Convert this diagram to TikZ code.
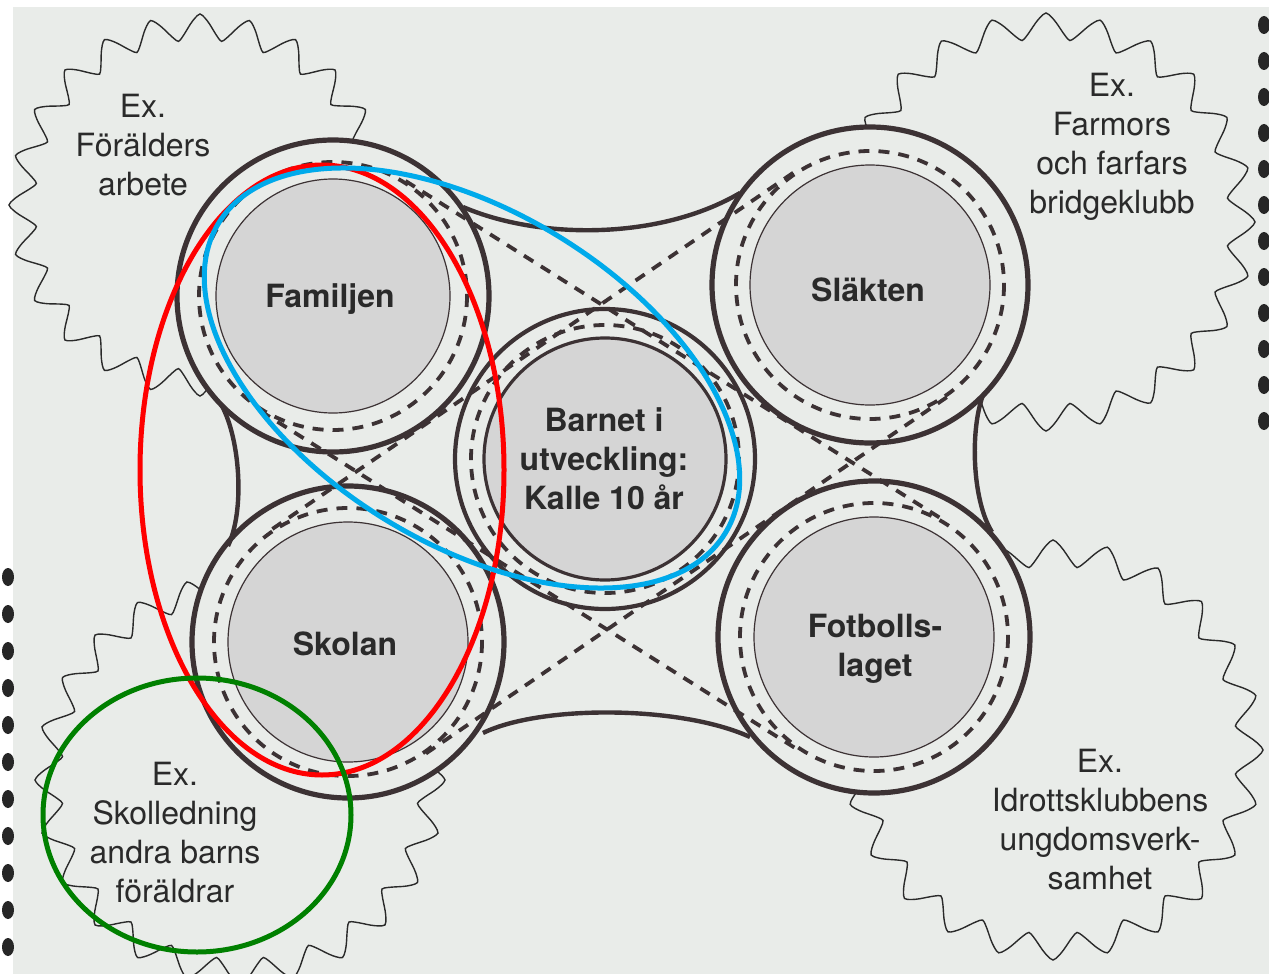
\documentclass[tikz,border=0pt]{standalone}
\usepackage{fontspec}
\setmainfont{TeX Gyre Heros}
\usetikzlibrary{calc}

\definecolor{page}{RGB}{233,236,233}
\definecolor{ringdark}{RGB}{60,50,52}
\definecolor{fillgrey}{RGB}{213,213,213}
\definecolor{inkgrey}{RGB}{42,42,42}
\definecolor{markblue}{RGB}{0,170,235}
\definecolor{markgreen}{RGB}{0,128,0}

\tikzset{
  burst/.style={draw=inkgrey, line width=0.7pt, fill=page},
  outerring/.style={draw=ringdark, line width=2.6pt, fill=page},
  dashring/.style={draw=ringdark, line width=1.9pt, dash pattern=on 5.5pt off 4.5pt},
  blobline/.style={draw=ringdark, line width=2.2pt},
  sphere/.style={circle, draw=ringdark, line width=0.6pt, fill=fillgrey, inner sep=0pt,
    minimum size=#1},
  spheretext/.style={align=center, text=inkgrey,
    font=\fontsize{16}{19.5}\selectfont\bfseries},
  extext/.style={align=center, text=inkgrey, font=\fontsize{16}{19.5}\selectfont},
  annot/.style={line width=2.5pt}
}

\begin{document}
\begin{tikzpicture}[x=0.5pt, y=-0.5pt]
% Page
\fill[white] (0,0) rectangle (1269,974);
\fill[page] (13,7) rectangle (1269,974);
\useasboundingbox (0,0) rectangle (1269,974);

% Punch holes
\foreach \k in {0,...,10}
  \fill[black!85] (8,{577+37*\k}) ellipse [x radius=6, y radius=9];
\foreach \k in {0,...,11}
  \fill[black!85] (1264,{25+36*\k}) ellipse [x radius=6, y radius=9];

% Starbursts behind the rings
\foreach \cx/\cy/\r in {200/205/178, 1046/222/196, 240/780/192, 1053/750/197}
  \draw[burst, shift={(\cx,\cy)}] plot[domain=0:358.5, samples=240, smooth cycle]
    (\x:{\r+6.5*cos(24*\x)+6.5*asin(cos(24*\x))/90});

\node[extext] (exfor) at (143,145) {Ex.\\Förälders\\arbete};
\node[extext] (exfar) at (1112,147) {Ex.\\Farmors\\och farfars\\bridgeklubb};
\node[extext] (exsko) at (175,833) {Ex.\\Skolledning\\andra barns\\föräldrar};
\node[extext] (exidr) at (1100,820) {Ex.\\Idrottsklubbens\\ungdomsverk-\\samhet};

% Centres
\coordinate (F) at (333,296); % Familjen
\coordinate (S) at (870,285); % Slakten
\coordinate (K) at (348,642); % Skolan
\coordinate (T) at (874,637); % Fotbollslaget
\coordinate (B) at (605,459); % Barnet

% Blob between the rings
\fill[page] (F) -- (463,207) .. controls (540,240) and (660,240) .. (740,193)
  -- (S) -- (983,395) .. controls (970,430) and (972,500) .. (992,532)
  -- (T) -- (750,737) .. controls (680,705) and (540,705) .. (483,733)
  -- (K) -- (228,546) .. controls (245,510) and (240,440) .. (222,406) -- cycle;

% Outer rings
\foreach \c/\r in {F/156, S/158, K/156, T/156}
  \draw[outerring] (\c) circle (\r);
\draw[outerring, line width=2.1pt] (B) circle (150);

% Concave sides of the blob
\draw[blobline] (463,207) .. controls (540,240) and (660,240) .. (740,193);
\draw[blobline] (983,395) .. controls (970,430) and (972,500) .. (992,532);
\draw[blobline] (750,737) .. controls (680,705) and (540,705) .. (483,733);
\draw[blobline] (228,546) .. controls (245,510) and (240,440) .. (222,406);

% Dashed rings and their tangents
\foreach \c in {F,S,K,T}
  \draw[dashring] (\c) circle (134);
\draw[dashring] (B) circle (134);
\foreach \a/\b in {F/T, S/K} {
  \draw[dashring] ($(\a)!68pt!90:(\b)$) -- ($(\b)!68pt!-90:(\a)$);
  \draw[dashring] ($(\a)!68pt!-90:(\b)$) -- ($(\b)!68pt!90:(\a)$);
}

% Inner circles
\node[sphere=117pt] (fam) at (F) {};
\node[sphere=120pt] (sla) at (S) {};
\node[sphere=120pt] (sko) at (K) {};
\node[sphere=120pt] (fot) at (T) {};
\node[sphere=121pt, line width=1.6pt] (bar) at (B) {};

\node[spheretext] (famtxt) at (330,299) {Familjen};
\node[spheretext] (slatxt) at (868,290) {Släkten};
\node[spheretext] (skotxt) at (345,644) {Skolan};
\node[spheretext] (fottxt) at (875,649) {Fotbolls-\\laget};
\node[spheretext] (bartxt) at (604,459) {Barnet i\\utveckling:\\Kalle 10 år};

% Hand-drawn marks
\draw[red, annot] (322,470) ellipse [x radius=182, y radius=305];
\draw[markblue, annot, rotate around={-31.5:(472,378)}] (472,378)
  ellipse [x radius=297, y radius=166];
\draw[markgreen, annot] (197,815) ellipse [x radius=154, y radius=137];
\end{tikzpicture}
\end{document}
